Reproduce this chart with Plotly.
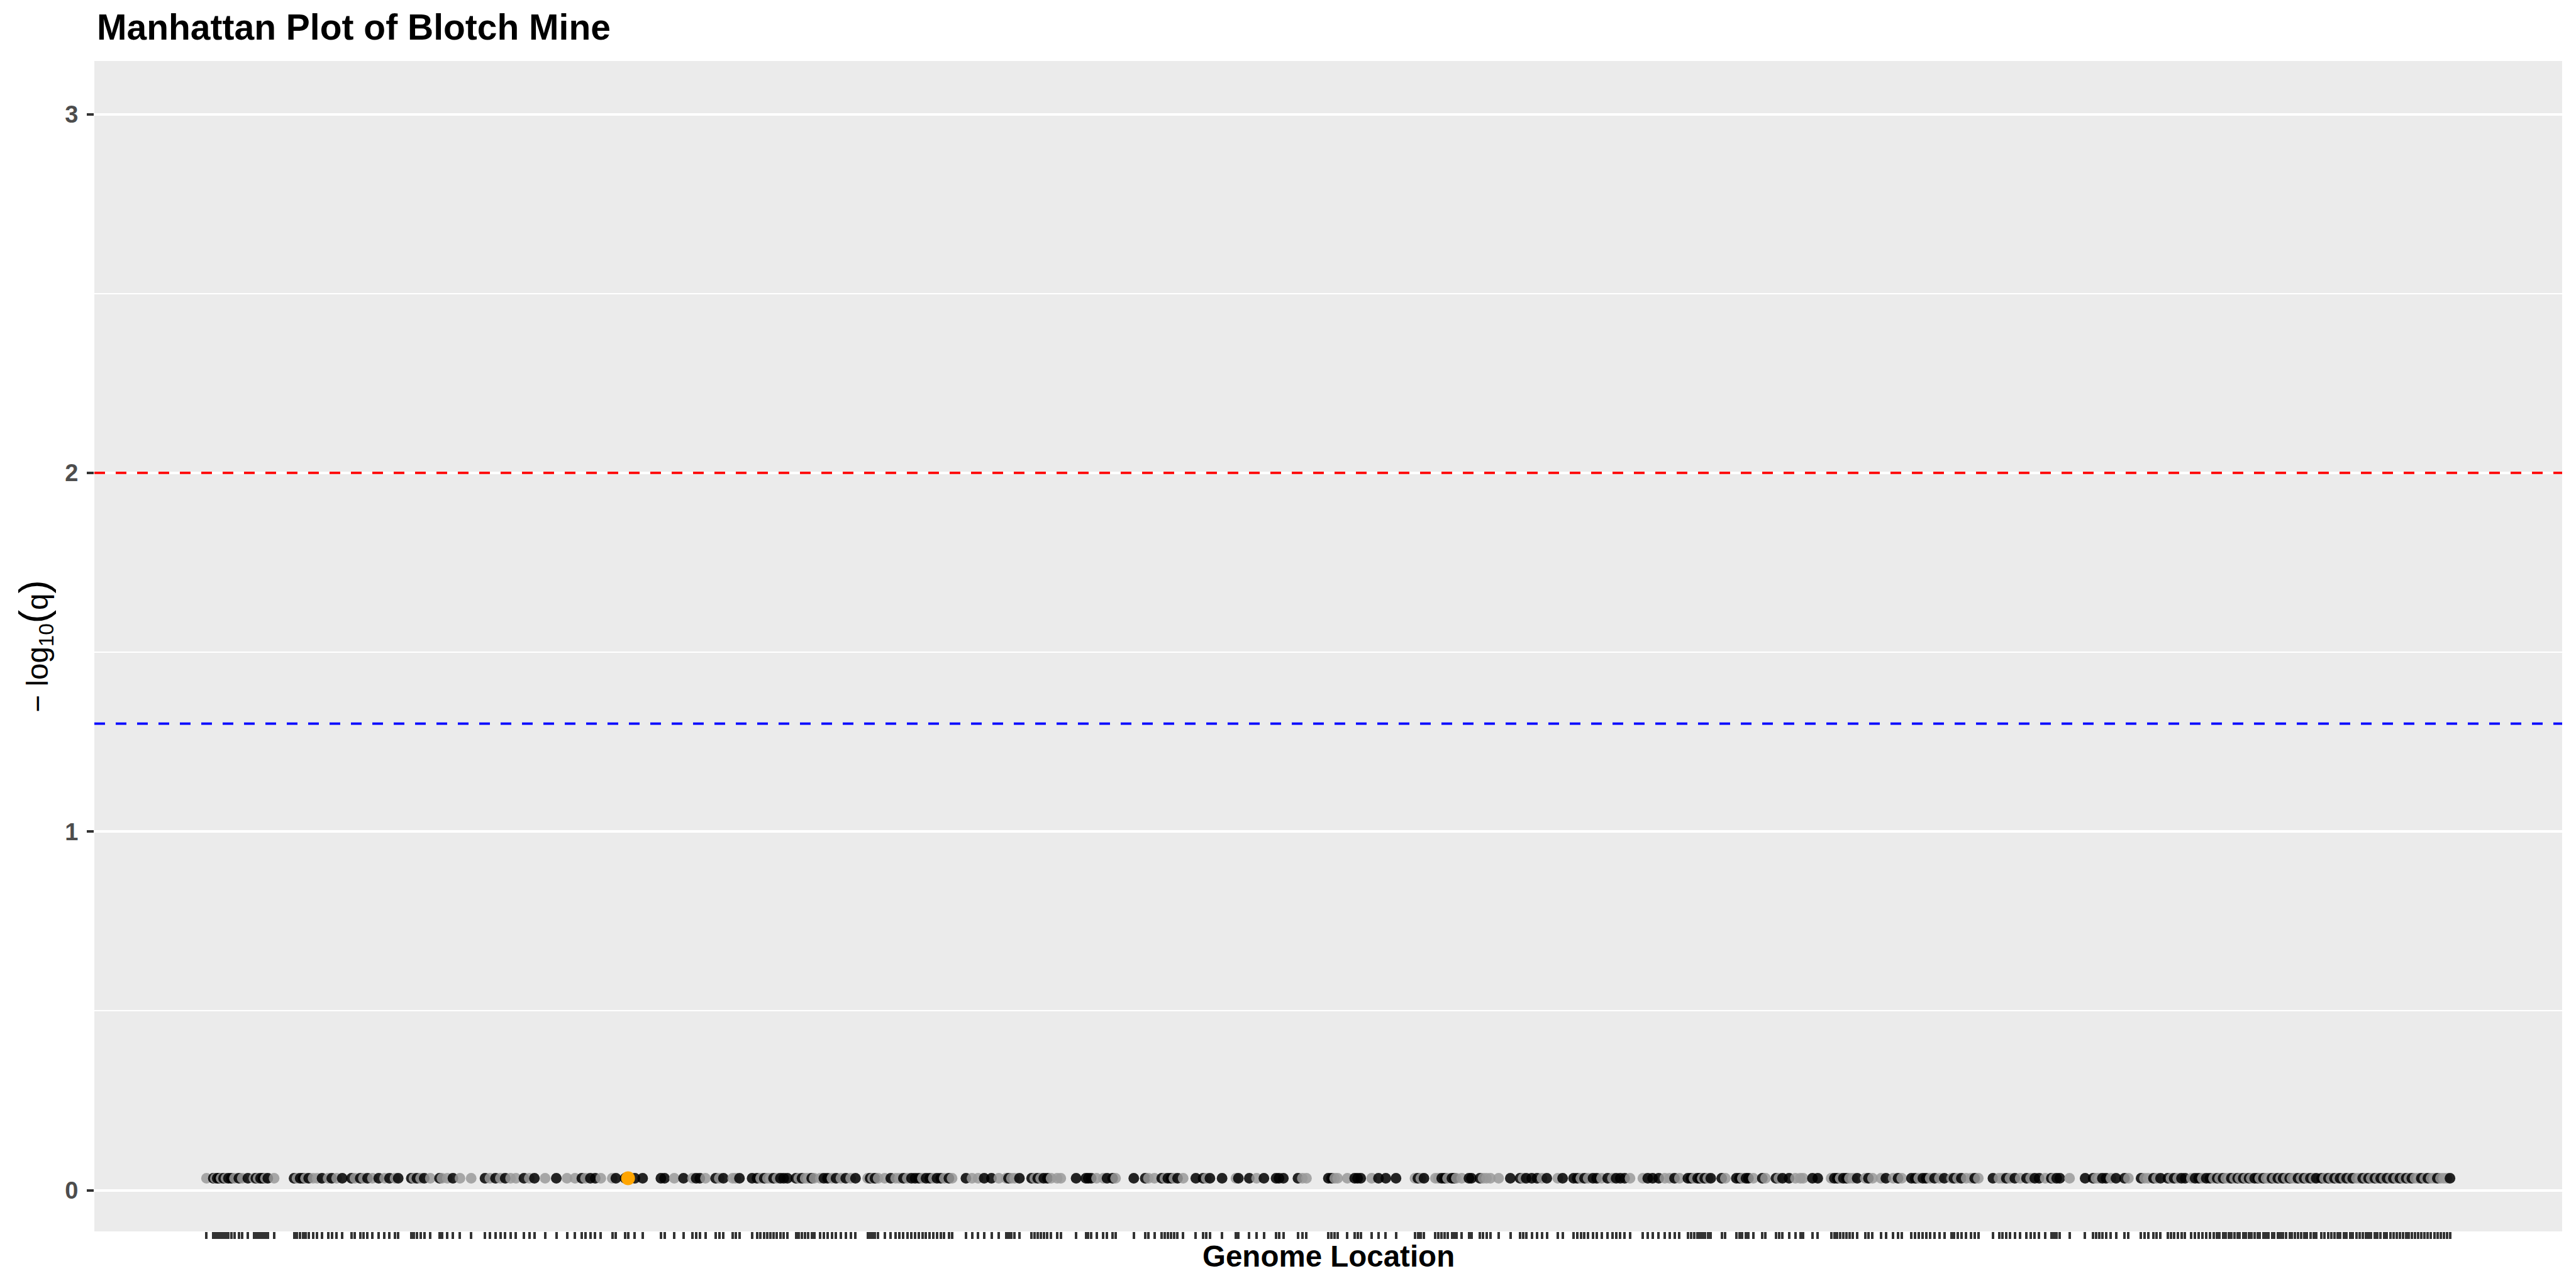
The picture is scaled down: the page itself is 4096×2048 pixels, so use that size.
import plotly.graph_objects as go

# ---------------- data ----------------
TITLE = "Manhattan Plot of Blotch Mine"
X_TITLE = "Genome Location"
Y_TITLE = ("− log<sub>10</sub><span style=\"font-size:64px\">(</span>q"
           "<span style=\"font-size:64px\">)</span>")

# cumulative start of each scaffold block (genome units)
block_start = [0, 1543, 3087, 4630, 6174, 7717]

# (position within block, colour group)  k = dark, g = grey, o = highlighted
block0 = [(40,'g'),(68,'k'),(76,'g'),(84,'k'),(92,'k'),(100,'g'),(110,'k'),(120,'g'),(130,'k'),(142,'k'),(155,'g'),
          (173,'k'),(187,'g'),(210,'k'),
          (235,'g'),(243,'k'),(252,'g'),(262,'k'),(272,'k'),(282,'g'),(292,'k'),(318,'g'),
          (400,'k'),(412,'g'),(425,'k'),(437,'k'),(447,'g'),(460,'k'),(478,'g'),(495,'g'),(515,'k'),
          (540,'g'),(555,'k'),(575,'g'),(598,'k'),
          (636,'k'),(650,'g'),(672,'k'),(685,'g'),(702,'k'),(722,'g'),(748,'k'),(772,'g'),(792,'k'),
          (815,'g'),(828,'k'),
          (882,'k'),(893,'g'),(905,'k'),(920,'g'),(935,'k'),(960,'g'),
          (998,'k'),(1008,'g'),(1030,'g'),(1053,'k'),(1082,'g'),
          (1128,'g'),
          (1185,'k'),(1205,'g'),(1228,'k'),(1248,'g'),(1268,'k'),(1290,'g'),(1312,'g'),
          (1345,'k'),(1367,'g'),(1388,'k'),
          (1432,'g'),(1478,'k'),(1522,'g')]

block1 = [(12,'g'),(40,'k'),(55,'g'),(75,'k'),(95,'k'),(118,'g'),
          (165,'g'),(180,'k'),(218,'k'),(230,'o'),(258,'k'),(290,'k'),
          (365,'k'),(380,'k'),(420,'g'),(458,'k'),(495,'g'),(510,'k'),(525,'k'),(548,'g'),
          (590,'k'),(605,'g'),(622,'k'),(660,'g'),(672,'g'),(688,'k'),
          (740,'k'),(760,'k'),(775,'g'),(790,'k'),(803,'g'),(815,'g'),(828,'k'),(842,'g'),(856,'k'),(870,'k'),(885,'k'),
          (920,'k'),(932,'g'),(945,'k'),(958,'g'),(970,'g'),(985,'k'),(995,'g'),
          (1020,'g'),(1035,'k'),(1050,'k'),(1068,'g'),(1085,'k'),(1105,'g'),(1125,'k'),(1145,'g'),(1165,'k'),
          (1215,'g'),(1225,'k'),(1235,'g'),(1245,'k'),(1258,'g'),
          (1285,'g'),(1310,'k'),(1330,'g'),(1345,'g'),(1362,'k'),(1378,'g'),(1395,'k'),(1410,'k'),(1425,'k'),
          (1440,'g'),(1455,'k'),(1470,'k'),(1485,'g'),(1500,'k'),(1515,'k'),(1530,'g')]

block2 = [(5,'k'),(18,'g'),(75,'k'),(100,'g'),(125,'g'),(150,'k'),(180,'k'),(210,'g'),(240,'g'),(250,'k'),(262,'g'),(275,'g'),(295,'k'),
          (345,'k'),(358,'g'),(370,'k'),(382,'g'),(395,'k'),(410,'k'),(425,'g'),(450,'g'),(465,'g'),
          (528,'k'),(568,'k'),(578,'k'),(590,'k'),(612,'g'),(640,'g'),(655,'k'),(678,'k'),(690,'g'),
          (765,'k'),(812,'k'),(825,'g'),(850,'g'),(880,'k'),(893,'g'),(905,'k'),(918,'k'),(930,'g'),(945,'k'),(968,'g'),
          (1020,'k'),(1050,'k'),(1063,'g'),(1078,'k'),(1128,'k'),
          (1185,'g'),(1195,'k'),(1240,'k'),(1270,'g'),(1300,'k'),(1350,'k'),(1362,'k'),(1380,'k'),
          (1440,'k'),(1458,'g'),(1475,'g')]

block3 = [(22,'k'),(35,'k'),(48,'g'),(60,'g'),(100,'g'),(130,'k'),(142,'k'),(155,'k'),(200,'g'),(228,'k'),(258,'k'),(300,'k'),
          (378,'g'),(390,'k'),(402,'g'),(415,'k'),(462,'g'),(475,'g'),(488,'k'),(500,'k'),(512,'g'),(530,'k'),(540,'k'),(548,'g'),
          (570,'g'),(600,'k'),(610,'k'),(645,'k'),(658,'g'),(672,'g'),(688,'g'),(722,'g'),(770,'k'),(810,'k'),(822,'g'),(835,'k'),
          (858,'k'),(880,'k'),(900,'g'),(920,'k'),(965,'g'),(985,'k'),(1030,'k'),(1045,'k'),(1060,'g'),(1075,'k'),(1090,'g'),
          (1110,'k'),(1125,'k'),(1145,'g'),(1170,'k'),(1190,'g'),(1205,'k'),(1222,'k'),(1240,'k'),(1262,'g'),
          (1315,'g'),(1335,'k'),(1355,'k'),(1380,'k'),(1405,'g'),(1425,'g'),(1445,'k'),(1465,'g'),(1500,'k'),(1512,'k'),
          (1525,'g'),(1540,'k')]

block4 = [(5,'k'),(15,'g'),(25,'k'),(38,'g'),(50,'k'),(95,'k'),(110,'g'),
          (155,'k'),(168,'k'),(180,'g'),(195,'k'),(205,'k'),(225,'g'),
          (262,'k'),(275,'g'),(318,'k'),(330,'g'),(345,'k'),(372,'k'),(398,'g'),(418,'g'),(430,'g'),
          (468,'k'),(490,'k'),(545,'g'),(558,'k'),(570,'k'),(582,'g'),(595,'k'),(608,'k'),(620,'g'),(635,'g'),(652,'k'),
          (685,'g'),(698,'k'),(715,'g'),(750,'g'),(770,'k'),(800,'g'),(820,'k'),(835,'g'),(875,'k'),(890,'k'),(905,'g'),
          (922,'k'),(935,'k'),(952,'g'),(970,'k'),(990,'g'),(1010,'k'),
          (1040,'g'),(1050,'k'),(1065,'g'),(1080,'k'),(1100,'g'),(1120,'g'),(1135,'k'),(1150,'g'),
          (1210,'k'),(1235,'g'),(1250,'g'),(1265,'k'),(1280,'g'),(1300,'k'),(1322,'g'),(1348,'k'),(1365,'g'),(1382,'k'),
          (1400,'k'),(1425,'g'),(1450,'k'),(1460,'g'),(1472,'k'),(1485,'k'),(1525,'g')]

block5 = [(46,'k'),(79,'k'),(91,'g'),(104,'g'),(117,'k'),(132,'k'),(152,'g'),(173,'k'),(208,'k'),(224,'g'),(276,'k'),(290,'g'),
          (305,'g'),(327,'k'),(340,'g'),(356,'k'),
          (386,'k'),(399,'g'),(412,'k'),(427,'g'),(442,'k'),(457,'k'),(483,'g'),(498,'k'),(513,'k'),(528,'g'),(544,'k'),(559,'k'),(574,'g'),
          (589,'k'),(599,'g'),(613,'k'),(624,'g'),(638,'g'),(647,'k'),(660,'g'),(673,'k'),(682,'g'),(696,'k'),(707,'g'),(720,'k'),
          (729,'g'),(743,'k'),(756,'k'),(764,'g'),(779,'k'),(790,'g'),(801,'g'),(814,'k'),(824,'g'),(838,'k'),(850,'g'),(860,'k'),
          (873,'g'),(887,'k'),(896,'g'),(909,'g'),(921,'k'),(934,'g'),(946,'k'),(957,'g'),(972,'k'),(985,'g'),(996,'k'),
          (1018,'k'),(1030,'g'),(1046,'k'),(1057,'g'),(1071,'k'),(1083,'g'),(1094,'k'),(1110,'g'),(1121,'k'),(1135,'g'),
          (1146,'k'),(1161,'g'),(1175,'g'),(1187,'k'),(1200,'g'),(1211,'k'),
          (1222,'g'),(1237,'k'),(1248,'g'),(1261,'k'),(1275,'g'),(1287,'k'),(1301,'g'),(1313,'k'),(1326,'g'),(1340,'k'),
          (1353,'g'),(1366,'k'),(1377,'g'),
          (1389,'k'),(1402,'g'),(1416,'g'),(1428,'k'),(1442,'g'),(1455,'k'),(1468,'g'),(1481,'g'),(1494,'k'),(1507,'g'),
          (1520,'g'),(1533,'g'),(1546,'k')]

blocks = [block0, block1, block2, block3, block4, block5]

NEG_LOG10_Q = 0.0335          # value of every marker
Y_MAX = 3                     # upper y limit
SIG_STRONG = 2.0              # -log10(0.01)
SIG_WEAK = 1.30103            # -log10(0.05)
Y_TICKS = [0, 1, 2, 3]

# ---------------- build ----------------
xs, groups = [], []
for start, blk in zip(block_start, blocks):
    for p, g in blk:
        xs.append(start + p)
        groups.append(g)
ys = [NEG_LOG10_Q for _ in xs]

col_map = {'k': '#000000', 'g': '#9A9A9A'}
base_x = [x for x, g in zip(xs, groups) if g != 'o']
base_y = [y for y, g in zip(ys, groups) if g != 'o']
base_c = [col_map[g] for g in groups if g != 'o']
hi_x = [x for x, g in zip(xs, groups) if g == 'o']
hi_y = [y for y, g in zip(ys, groups) if g == 'o']

W, H = 4096, 2048
ML, MR, MT, MB = 150, 22, 97, 90
FONT = "Liberation Sans, Arial, Helvetica, sans-serif"

xmin, xmax = min(xs), max(xs)
xspan = xmax - xmin
ymin = min(ys)
yspan = Y_MAX - ymin

fig = go.Figure()
fig.add_trace(go.Scatter(x=base_x, y=base_y, mode="markers",
                         marker=dict(color=base_c, size=17, opacity=0.85, line=dict(width=0)),
                         showlegend=False, hoverinfo="x"))
fig.add_trace(go.Scatter(x=hi_x, y=hi_y, mode="markers",
                         marker=dict(color="#FFA500", size=22, opacity=1, line=dict(width=0)),
                         showlegend=False, hoverinfo="x"))

for yv, col in [(SIG_STRONG, "#FF0000"), (SIG_WEAK, "#0000FF")]:
    fig.add_shape(type="line", xref="paper", x0=0, x1=1, yref="y", y0=yv, y1=yv,
                  line=dict(color=col, width=3.8, dash="17px,17px"), layer="above")

pw = W - ML - MR
ph = H - MT - MB
fig.update_layout(
    width=W, height=H,
    margin=dict(l=ML, r=MR, t=MT, b=MB, pad=0),
    paper_bgcolor="white", plot_bgcolor="#EBEBEB",
    font=dict(family=FONT, color="black"),
    showlegend=False,
    xaxis=dict(range=[xmin - 0.05 * xspan, xmax + 0.05 * xspan],
               tickmode="array", tickvals=xs, showticklabels=False,
               ticks="outside", ticklen=11, tickwidth=3.6, tickcolor="#333333",
               showgrid=False, zeroline=False, showline=False),
    yaxis=dict(range=[ymin - 0.05 * yspan, Y_MAX + 0.05 * yspan],
               tickmode="array", tickvals=Y_TICKS, ticktext=[str(t) for t in Y_TICKS],
               ticks="outside", ticklen=11, tickwidth=3.6, tickcolor="#333333",
               tickfont=dict(size=38, color="#4D4D4D", family=FONT, weight="bold"),
               ticklabelstandoff=6,
               showgrid=True, gridcolor="white", gridwidth=3.8,
               minor=dict(dtick=0.5, tick0=0, showgrid=True, gridcolor="white", gridwidth=1.9, ticks=""),
               zeroline=False, showline=False),
    annotations=[
        dict(text="<b>" + TITLE + "</b>", xref="paper", yref="paper",
             x=(152 - ML) / pw, y=(H - MB - 43) / ph, xanchor="left", yanchor="middle",
             showarrow=False, font=dict(size=57, color="black", family=FONT)),
        dict(text="<b>" + X_TITLE + "</b>", xref="paper", yref="paper",
             x=0.5, y=(H - MB - 1997) / ph, xanchor="center", yanchor="middle",
             showarrow=False, font=dict(size=47.5, color="black", family=FONT)),
        dict(text=Y_TITLE, xref="paper", yref="paper", textangle=-90,
             x=(55 - ML) / pw, y=0.5, xanchor="center", yanchor="middle",
             showarrow=False, font=dict(size=47.5, color="black", family=FONT)),
    ],
)

fig.write_html("out.html")
